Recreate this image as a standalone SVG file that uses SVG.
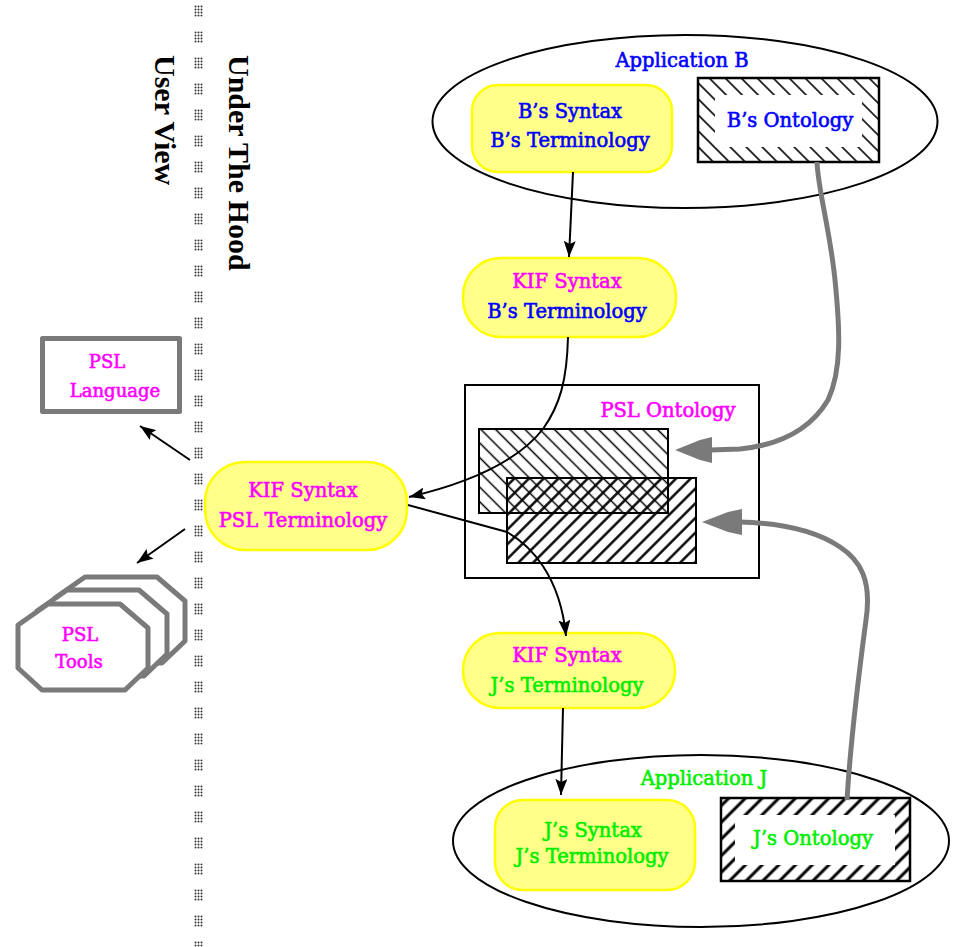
<svg xmlns="http://www.w3.org/2000/svg" width="953" height="947" viewBox="0 0 953 947">
<style>
.t{font-family:"DejaVu Serif","Liberation Serif",serif;font-size:19.5px;text-anchor:middle;stroke-width:0.6}
.s{font-size:18px}
.ttl{font-family:"Liberation Serif","DejaVu Serif",serif;font-size:30px;font-weight:bold;fill:#000}
.b{fill:#0000ff;stroke:#0000ff}.m{fill:#ff00ff;stroke:#ff00ff}.g{fill:#00ee00;stroke:#00ee00}
.ybox{fill:#ffff8a;stroke:#ffff00;stroke-width:2.5}
.ell{fill:none;stroke:#000;stroke-width:2}
.con{fill:none;stroke:#000;stroke-width:2;marker-end:url(#ah)}
.gray{fill:none;stroke:#7a7a7a;stroke-width:5}
.grayhead{fill:#7a7a7a}
.frame{fill:#fff;stroke:#7a7a7a;stroke-width:5;stroke-linejoin:round}
</style>
<defs>
<pattern id="vdots" x="194" y="5" width="9" height="26" patternUnits="userSpaceOnUse">
<g fill="#333"><circle cx="1.5" cy="1.5" r="1"/><circle cx="4.5" cy="1.5" r="1"/><circle cx="7.5" cy="1.5" r="1"/><circle cx="1.5" cy="4.5" r="1"/><circle cx="4.5" cy="4.5" r="1"/><circle cx="7.5" cy="4.5" r="1"/><circle cx="1.5" cy="7.5" r="1"/><circle cx="4.5" cy="7.5" r="1"/><circle cx="7.5" cy="7.5" r="1"/><circle cx="1.5" cy="10.5" r="1"/><circle cx="4.5" cy="10.5" r="1"/><circle cx="7.5" cy="10.5" r="1"/></g>
</pattern>
<pattern id="hb" width="11.3" height="11.3" patternUnits="userSpaceOnUse" patternTransform="rotate(-45)"><line x1="5.6" y1="0" x2="5.6" y2="11.3" stroke="#000" stroke-width="1.6"/></pattern>
<pattern id="hp1" width="10.4" height="10.4" patternUnits="userSpaceOnUse" patternTransform="rotate(-45)"><line x1="5.2" y1="0" x2="5.2" y2="10.4" stroke="#000" stroke-width="1.5"/></pattern>
<pattern id="hp2" width="10.4" height="10.4" patternUnits="userSpaceOnUse" patternTransform="rotate(45)"><line x1="5.2" y1="0" x2="5.2" y2="10.4" stroke="#000" stroke-width="2.4"/></pattern>
<pattern id="hj" width="11.8" height="11.8" patternUnits="userSpaceOnUse" patternTransform="rotate(45)"><line x1="5.9" y1="0" x2="5.9" y2="11.8" stroke="#000" stroke-width="3"/></pattern>
<marker id="ah" markerWidth="16" markerHeight="12" refX="16" refY="6" orient="auto" markerUnits="userSpaceOnUse"><path d="M0,0 L16,6 L0,12 L3,6 Z" fill="#000"/></marker>
</defs>

<g id="divider">
<rect x="194" y="5" width="9" height="942" fill="url(#vdots)"/>
<text class="ttl" transform="translate(229,55) rotate(90)">Under The Hood</text>
<text class="ttl" transform="translate(155,55) rotate(90)">User View</text>
</g>

<g id="app-b">
<ellipse class="ell" cx="685" cy="121.5" rx="252.5" ry="86.5"/>
<text class="t b" x="682" y="67">Application B</text>
</g>

<g id="b-syntax">
<rect class="ybox" x="472" y="85" width="200" height="87" rx="26"/>
<text class="t b" x="570" y="118">B’s Syntax</text>
<text class="t b" x="570" y="147">B’s Terminology</text>
</g>

<g id="b-ontology">
<rect x="698" y="78" width="181" height="84" fill="url(#hb)"/>
<rect x="715" y="95" width="147" height="52" fill="#fff"/>
<rect x="698" y="78" width="181" height="84" fill="none" stroke="#000" stroke-width="2.5"/>
<text class="t b" x="790" y="127">B’s Ontology</text>
</g>

<g id="kif-b">
<rect class="ybox" x="463" y="258" width="213" height="79" rx="38"/>
<text class="t m" x="567" y="288">KIF Syntax</text>
<text class="t b" x="567" y="318">B’s Terminology</text>
</g>

<g id="psl-ontology">
<rect x="465" y="385" width="294" height="193" fill="#fff" stroke="#000" stroke-width="2"/>
<text class="t m" x="668" y="417">PSL Ontology</text>
<rect x="479" y="429" width="189" height="84" fill="url(#hp1)" stroke="#000" stroke-width="2"/>
<rect x="507" y="478" width="189" height="85" fill="url(#hp2)" stroke="#000" stroke-width="2"/>
<rect x="479" y="429" width="189" height="84" fill="none" stroke="#000" stroke-width="2"/>
</g>

<g id="kif-psl">
<rect class="ybox" x="205" y="462" width="202" height="88" rx="40"/>
<text class="t m" x="303" y="497">KIF Syntax</text>
<text class="t m" x="303" y="527">PSL Terminology</text>
</g>

<g id="psl-language">
<rect class="frame" x="42.5" y="338.5" width="137" height="73"/>
<text class="t s m" x="107" y="368">PSL</text>
<text class="t s m" x="115" y="397">Language</text>
</g>

<g id="psl-tools">
<polygon class="frame" points="85,577 157,577 185,601 185,641 162,663 79,663 55,641 55,598"/>
<polygon class="frame" points="67,590 139,590 167,614 167,654 144,676 61,676 37,654 37,611"/>
<polygon class="frame" points="48,604 120,604 148,628 148,668 125,690 42,690 18,668 18,625"/>
<text class="t s m" x="80" y="641">PSL</text>
<text class="t s m" x="79" y="668">Tools</text>
</g>

<g id="kif-j">
<rect class="ybox" x="463" y="633" width="212" height="75" rx="37"/>
<text class="t m" x="567" y="662">KIF Syntax</text>
<text class="t g" x="567" y="692">J’s Terminology</text>
</g>

<g id="app-j">
<ellipse class="ell" cx="701" cy="841" rx="248" ry="86"/>
<text class="t g" x="704" y="785">Application J</text>
</g>

<g id="j-syntax">
<rect class="ybox" x="495" y="800" width="200" height="90" rx="28"/>
<text class="t g" x="593" y="837">J’s Syntax</text>
<text class="t g" x="592" y="863">J’s Terminology</text>
</g>

<g id="j-ontology">
<rect x="721" y="798" width="189" height="83" fill="url(#hj)"/>
<rect x="735" y="815" width="160" height="50" fill="#fff"/>
<rect x="721" y="798" width="189" height="83" fill="none" stroke="#000" stroke-width="2.5"/>
<text class="t g" x="813" y="845">J’s Ontology</text>
</g>

<g id="connectors">
<path class="con" d="M573,172 L569,257"/>
<path class="con" d="M568,337 C567,380 560,405 543,429 C525,452 490,478 409,497"/>
<path class="con" d="M408,505 L507,532 C530,545 560,575 566,636"/>
<path class="con" d="M563,708 L561,795"/>
<path class="con" d="M190,460 L140,426"/>
<path class="con" d="M185,529 L137,563"/>
<path class="gray" d="M817,162 C818,190 830,230 835,280 C840,330 842,370 828,400 C810,430 780,445 740,449 L710,450"/>
<polygon class="grayhead" points="675,450 700,440 712,437 712,463 700,460"/>
<path class="gray" d="M847,800 C850,750 858,680 866,620 C872,580 860,560 840,547 C815,530 780,523 740,522"/>
<polygon class="grayhead" points="702,522 728,512 742,509 742,535 728,532"/>
</g>
</svg>
